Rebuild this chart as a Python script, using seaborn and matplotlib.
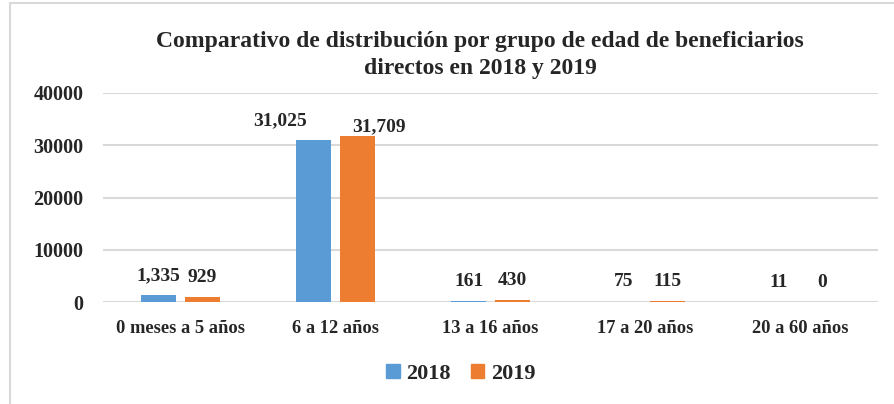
import pandas as pd
import seaborn as sns
import matplotlib.pyplot as plt
from matplotlib.patches import Rectangle, Patch

categorias = ['0 meses a 5 años', '6 a 12 años', '13 a 16 años', '17 a 20 años', '20 a 60 años']
valores_2018 = [1335, 31025, 161, 75, 11]
valores_2019 = [929, 31709, 430, 115, 0]
anios = ['2018', '2019']
colores = ['#5B9BD5', '#ED7D31']

df = pd.DataFrame({
    'grupo': categorias * 2,
    'anio': ['2018'] * len(categorias) + ['2019'] * len(categorias),
    'valor': valores_2018 + valores_2019,
})

sns.set_style("white")
plt.rcParams['font.family'] = ['Liberation Serif', 'DejaVu Serif']
plt.rcParams['font.weight'] = 'bold'

fig = plt.figure(figsize=(8.95, 4.04), dpi=100)
ax = fig.add_axes([103 / 895, 1 - 302 / 404, 775 / 895, 209 / 404])

sns.barplot(data=df, x='grupo', y='valor', hue='anio', palette=colores,
            width=0.56, gap=0.2, legend=False, ax=ax, saturation=1,
            edgecolor='none', linewidth=0)

ax.set_ylim(0, 40000)
ax.set_xlim(-0.5, 4.5)
ax.set_yticks([0, 10000, 20000, 30000, 40000])
ax.yaxis.grid(True, color='#D9D9D9', linewidth=1.5)
ax.set_axisbelow(True)
for s in ax.spines.values():
    s.set_visible(False)
ax.set_xlabel('')
ax.set_ylabel('')
ax.tick_params(axis='y', length=0, pad=14, labelsize=14.5)
ax.tick_params(axis='x', length=0, pad=13, labelsize=13.3)
for t in ax.get_xticklabels() + ax.get_yticklabels():
    t.set_fontweight('bold')

# ajustes manuales de etiquetas (como en el original)
ajustes = {(0, 1): (-24, 0), (1, 1): (16, -7)}
for i, cont in enumerate(ax.containers):
    for j, barra in enumerate(cont):
        v = [valores_2018, valores_2019][i][j]
        dx, dy = ajustes.get((i, j), (0, 0))
        ax.annotate(f'{v:,}', (barra.get_x() + barra.get_width() / 2, barra.get_height()),
                    xytext=(dx, 8 + dy), textcoords='offset points',
                    ha='center', va='bottom', fontsize=14, fontweight='bold')

fig.suptitle('Comparativo de distribución por grupo de edad de beneficiarios\ndirectos en 2018 y 2019',
             x=480 / 895, y=1 - 31 / 404, fontsize=17, fontweight='bold', linespacing=1.35)

handles = [Patch(color=c, label=a) for c, a in zip(colores, anios)]
fig.legend(handles=handles, loc='center', bbox_to_anchor=(461 / 895, 1 - 374 / 404),
           ncol=2, frameon=False, handlelength=0.6, handleheight=0.6,
           handletextpad=0.3, columnspacing=0.9, prop={'weight': 'bold', 'size': 16})

fig.patches.append(Rectangle((10 / 895, -0.1), 1.2, 1 - 3 / 404 + 0.1, transform=fig.transFigure,
                             fill=False, edgecolor='#D9D9D9', linewidth=1.5))

fig.savefig('out.png', dpi=100)
